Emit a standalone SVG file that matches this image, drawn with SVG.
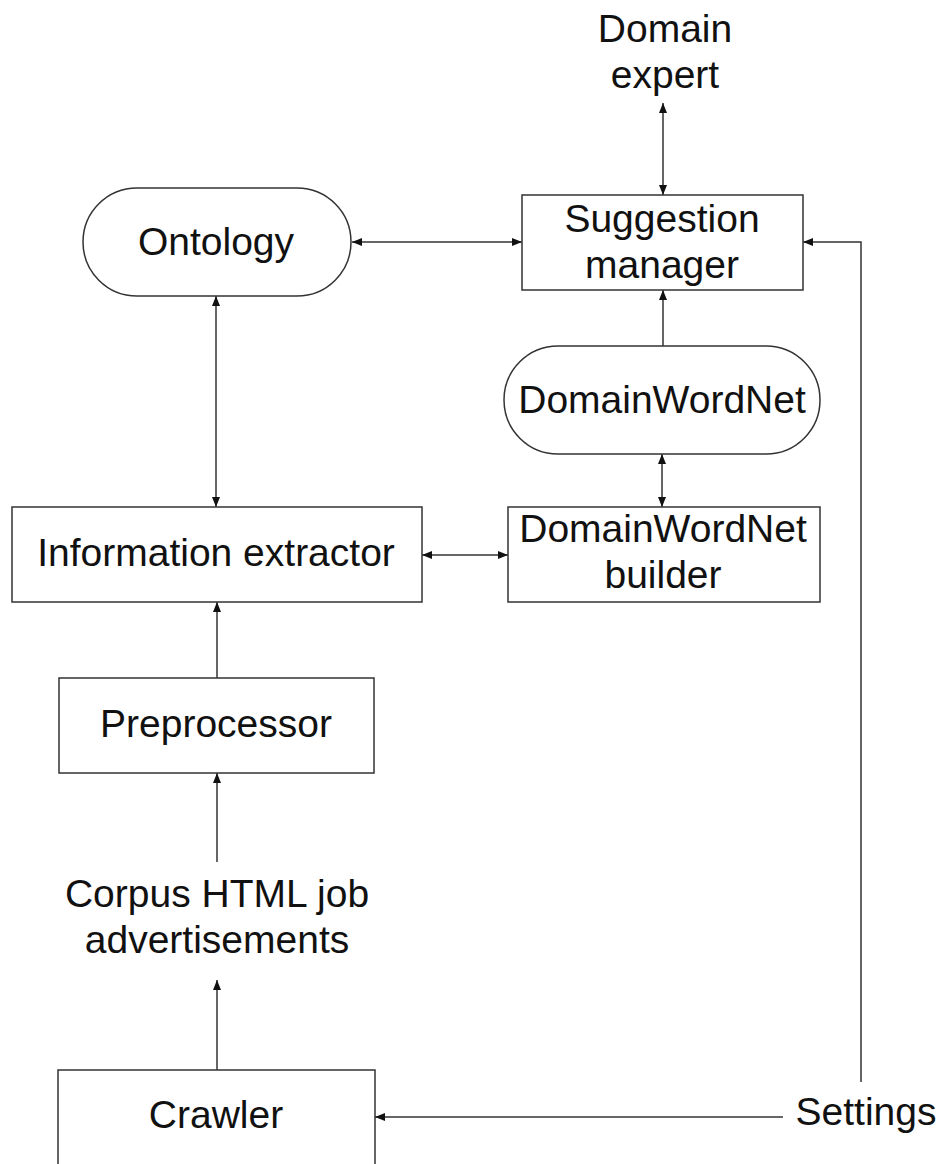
<svg xmlns="http://www.w3.org/2000/svg" width="944" height="1164" viewBox="0 0 944 1164">
  <style>
    .box { fill: #ffffff; stroke: #333333; stroke-width: 1.5; }
    .lbl { font-family: "Liberation Sans", Arial, sans-serif; font-size: 39px; fill: #111111; text-anchor: middle; }
    .wire { fill: none; stroke: #333333; stroke-width: 1.5; }
  </style>
  <defs>
    <marker id="head" viewBox="0 0 10 8" refX="10" refY="4" markerWidth="10" markerHeight="8" markerUnits="userSpaceOnUse" orient="auto-start-reverse">
      <path d="M0,0 L10,4 L0,8 Z" fill="#111111"/>
    </marker>
  </defs>
  <rect width="944" height="1164" fill="#ffffff"/>

  <!-- connectors -->
  <g id="connectors">
    <line class="wire" x1="663" y1="103" x2="663" y2="195" marker-start="url(#head)" marker-end="url(#head)"/>
    <line class="wire" x1="352" y1="242" x2="522" y2="242" marker-start="url(#head)" marker-end="url(#head)"/>
    <line class="wire" x1="216" y1="296" x2="216" y2="507" marker-start="url(#head)" marker-end="url(#head)"/>
    <line class="wire" x1="663" y1="346" x2="663" y2="290" marker-end="url(#head)"/>
    <line class="wire" x1="662" y1="454" x2="662" y2="507" marker-start="url(#head)" marker-end="url(#head)"/>
    <line class="wire" x1="422" y1="555" x2="508" y2="555" marker-start="url(#head)" marker-end="url(#head)"/>
    <line class="wire" x1="217" y1="678" x2="217" y2="602" marker-end="url(#head)"/>
    <line class="wire" x1="217" y1="862" x2="217" y2="773" marker-end="url(#head)"/>
    <line class="wire" x1="217" y1="1070" x2="217" y2="980" marker-end="url(#head)"/>
    <line class="wire" x1="783" y1="1117" x2="375" y2="1117" marker-end="url(#head)"/>
    <polyline class="wire" points="861,1082 861,242 803,242" marker-end="url(#head)"/>
  </g>

  <g id="domain-expert">
    <text class="lbl" x="665" y="42">Domain</text>
    <text class="lbl" x="665" y="88">expert</text>
  </g>

  <g id="suggestion-manager">
    <rect class="box" x="522" y="195" width="281" height="95"/>
    <text class="lbl" x="662" y="232">Suggestion</text>
    <text class="lbl" x="662" y="278">manager</text>
  </g>

  <g id="ontology">
    <rect class="box" x="83" y="188" width="268" height="108" rx="54" ry="54"/>
    <text class="lbl" x="216" y="255">Ontology</text>
  </g>

  <g id="domainwordnet">
    <rect class="box" x="504" y="346" width="316" height="108" rx="54" ry="54"/>
    <text class="lbl" x="662" y="413">DomainWordNet</text>
  </g>

  <g id="information-extractor">
    <rect class="box" x="12" y="507" width="410" height="95"/>
    <text class="lbl" x="216" y="566">Information extractor</text>
  </g>

  <g id="domainwordnet-builder">
    <rect class="box" x="508" y="507" width="312" height="95"/>
    <text class="lbl" x="663" y="542">DomainWordNet</text>
    <text class="lbl" x="663" y="588">builder</text>
  </g>

  <g id="preprocessor">
    <rect class="box" x="59" y="678" width="315" height="95"/>
    <text class="lbl" x="216" y="737">Preprocessor</text>
  </g>

  <g id="corpus">
    <text class="lbl" x="217" y="907">Corpus HTML job</text>
    <text class="lbl" x="217" y="953">advertisements</text>
  </g>

  <g id="crawler">
    <rect class="box" x="58" y="1070" width="317" height="95"/>
    <text class="lbl" x="216" y="1128">Crawler</text>
  </g>

  <g id="settings">
    <text class="lbl" x="866" y="1125">Settings</text>
  </g>
</svg>
